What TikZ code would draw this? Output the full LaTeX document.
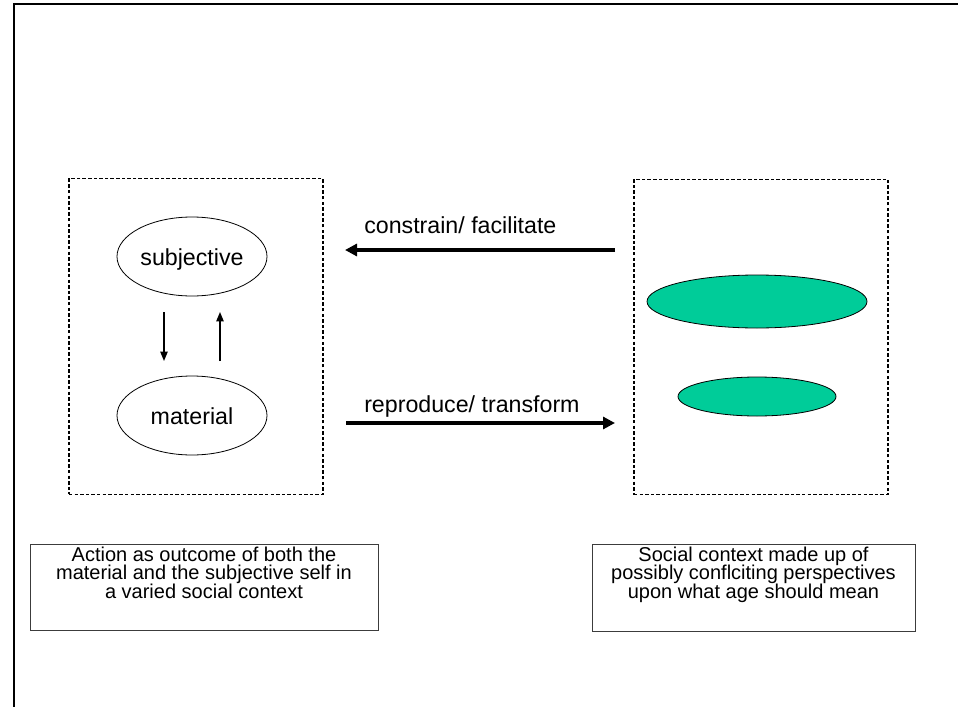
\documentclass[tikz,border=0pt]{standalone}
\usepackage{fontspec}
\setmainfont{Liberation Sans}
\usetikzlibrary{arrows.meta,shapes.geometric}
\definecolor{sheetgreen}{RGB}{0,204,153}
\definecolor{boxgray}{RGB}{60,60,60}
\newcommand{\tightlines}{\fontsize{15}{13.9}\selectfont\lineskiplimit=-20pt\relax}
\begin{document}
\begin{tikzpicture}[x=0.75pt,y=-0.75pt,
  frameline/.style={line width=1.5pt},
  dashbox/.style={draw, line width=0.9pt, dash pattern=on 2.6pt off 1.6pt, minimum width=190.5pt, minimum height=236.5pt, inner sep=0pt},
  oval/.style={ellipse, draw, line width=0.6pt, minimum width=112.5pt, minimum height=59.25pt, inner sep=0pt, text height=13.6pt, text depth=0pt, font=\fontsize{17.4}{20}\selectfont},
  greenoval/.style={ellipse, draw, line width=0.6pt, fill=sheetgreen, inner sep=0pt},
  bigarrow/.style={line width=2.6pt, -{Triangle[length=9pt,width=9pt]}},
  smallarrow/.style={line width=1pt, -{Triangle[length=7pt,width=5.5pt]}},
  arrowlabel/.style={anchor=base west, inner sep=0pt, font=\fontsize{17.4}{20}\selectfont},
  notebox/.style={draw=boxgray, line width=0.75pt, inner sep=0pt},
  notetext/.style={anchor=north, inner sep=0pt, align=center, font=\tightlines}
]
\useasboundingbox (0,0) rectangle (958,707);
% outer frame
\draw[frameline] (14,707) -- (14,4) -- (958,4);

% dashed boxes
\node[dashbox] (leftbox) at (196,336.5) {};
\node[dashbox] (rightbox) at (761,337) {};

% left ovals
\node[oval] (subj) at (192,256.5) {subjective};
\node[oval] (mat) at (192,415.5) {material};

% small arrows
\coordinate (d1) at (164,312);
\coordinate (d2) at (164,361);
\coordinate (u1) at (220,361);
\coordinate (u2) at (220,312);
\draw[smallarrow] (d1) -- (d2);
\draw[smallarrow] (u1) -- (u2);

% green ovals
\node[greenoval, minimum width=165pt, minimum height=39.75pt] (g1) at (757,301.5) {};
\node[greenoval, minimum width=118.5pt, minimum height=29.25pt] (g2) at (757,396.5) {};

% big arrows
\coordinate (c1) at (615,250);
\coordinate (c2) at (345,250);
\coordinate (r1) at (346,423);
\coordinate (r2) at (615,423);
\draw[bigarrow] (c1) -- (c2);
\draw[bigarrow] (r1) -- (r2);
\node[arrowlabel] (lc) at (364,233) {constrain/ facilitate};
\node[arrowlabel] (lr) at (364,412) {reproduce/ transform};

% bottom notes
\node[notebox, minimum width=261pt, minimum height=64.5pt] (nl) at (204,587) {};
\node[notebox, minimum width=242.25pt, minimum height=65.25pt] (nr) at (753.5,587.5) {};
\node[notetext] (tl) at (204,546.5) {Action as outcome of both the\\material and the subjective self in\\a varied social context};
\node[notetext] (tr) at (753.5,546.5) {Social context made up of\\possibly conflciting perspectives\\upon what age should mean};
\end{tikzpicture}
\end{document}
